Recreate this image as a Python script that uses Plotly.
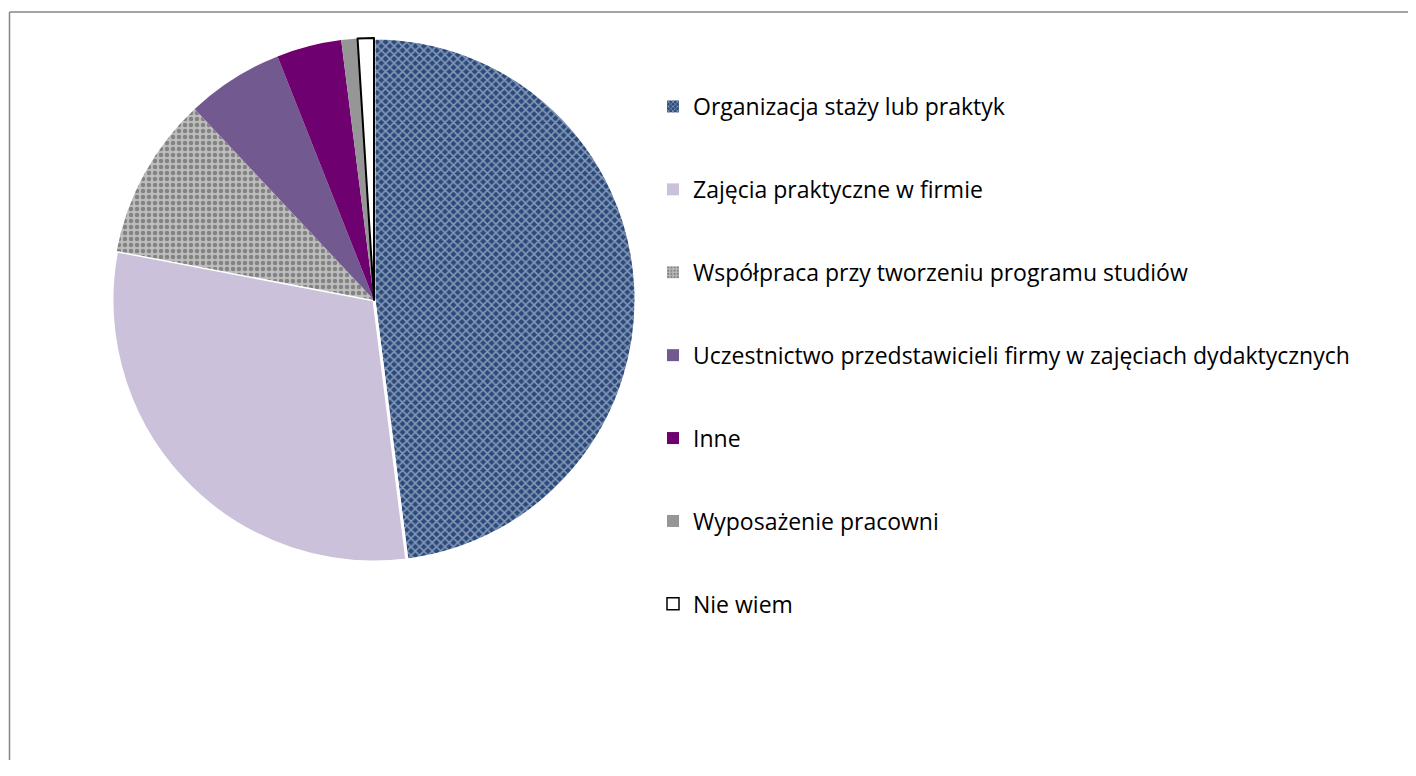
import plotly.graph_objects as go

# Data
labels = ["Organizacja staży lub praktyk", "Zajęcia praktyczne w firmie",
          "Współpraca przy tworzeniu programu studiów",
          "Uczestnictwo przedstawicieli firmy w zajęciach dydaktycznych",
          "Inne", "Wyposażenie pracowni", "Nie wiem"]
values = [48, 30, 10, 6, 4, 1, 1]

colors = ["#2b4a7c", "#ccc1da", "#bdbdbd", "#725990", "#6e006f", "#969696", "#ffffff"]
shapes_ = ["x", "", ".", "", "", "", ""]
pat_fg = ["#dfe6f0", "#ccc1da", "#4a4a4a", "#725990", "#6e006f", "#969696", "#ffffff"]
line_col = ["#ffffff", "#ffffff", "rgba(0,0,0,0)", "rgba(0,0,0,0)", "rgba(0,0,0,0)", "rgba(0,0,0,0)", "#000000"]
line_w = [3, 3, 0, 0, 0, 0, 2]

W, H = 1400, 752
OFF = 8  # page body margin


def px_x(x):
    return (x - OFF) / W


def px_y(y):
    return 1 - (y - OFF) / H


fig = go.Figure()
fig.add_trace(go.Pie(
    labels=labels, values=values, sort=False, direction="clockwise", rotation=0,
    textinfo="none", hoverinfo="label+percent", showlegend=False,
    marker=dict(colors=colors, line=dict(color=line_col, width=line_w),
                pattern=dict(shape=shapes_, fgcolor=pat_fg, bgcolor=colors,
                             size=6, solidity=0.45, fillmode="overlay")),
    domain=dict(x=[px_x(112), px_x(636)], y=[px_y(562), px_y(38)]),
))

# legend entries (one per slice so the spacing can be set)
for i, lab in enumerate(labels):
    fig.add_trace(go.Bar(
        x=[None], y=[None], name=lab, legendgroup=str(i),
        marker=dict(color=colors[i], line=dict(color="#000000" if i == 6 else colors[i], width=1.5 if i == 6 else 0),
                    pattern=dict(shape=shapes_[i], fgcolor=pat_fg[i], bgcolor=colors[i], size=4, solidity=0.45)),
    ))

fig.update_layout(
    width=W, height=H,
    margin=dict(l=0, r=0, t=0, b=0),
    paper_bgcolor="white", plot_bgcolor="white",
    font=dict(family="Open Sans", size=23, color="#000000"),
    xaxis=dict(visible=False), yaxis=dict(visible=False),
    legend=dict(x=px_x(653), y=px_y(85), xanchor="left", yanchor="top",
                tracegroupgap=50, itemwidth=30, bgcolor="rgba(0,0,0,0)"),
    shapes=[
        dict(type="line", xref="paper", yref="paper", x0=px_x(9.5), x1=1, y0=px_y(12), y1=px_y(12),
             line=dict(color="#868686", width=1.5)),
        dict(type="line", xref="paper", yref="paper", x0=px_x(9.5), x1=px_x(9.5), y0=0, y1=px_y(12),
             line=dict(color="#868686", width=1.5)),
    ],
)

fig.write_html("out.html")
